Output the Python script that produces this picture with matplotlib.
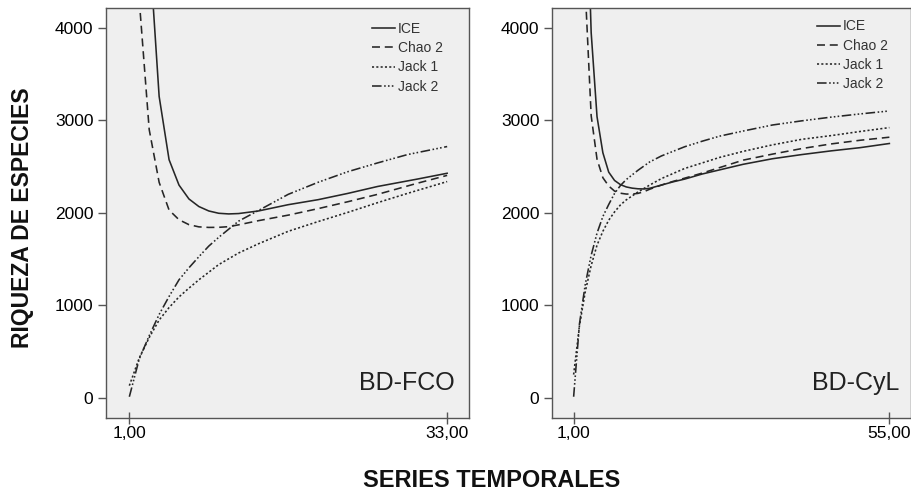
import matplotlib
matplotlib.use("Agg")
import matplotlib.pyplot as plt

plt.rcParams['font.family'] = ['Liberation Sans', 'DejaVu Sans']

# BD-FCO (33 series)
fco_ice_x = [2, 3, 4, 5, 6, 7, 8, 9, 10, 11, 12, 14, 17, 20, 23, 26, 30, 33]
fco_ice_y = [8000, 4900, 3260, 2575, 2300, 2150, 2068, 2020, 1995, 1988, 1992, 2020, 2088, 2142, 2210, 2285, 2365, 2428]
fco_chao_x = [2, 3, 4, 5, 6, 7, 8, 9, 10, 11, 12, 14, 17, 20, 23, 26, 30, 33]
fco_chao_y = [4300, 2900, 2330, 2030, 1925, 1872, 1848, 1842, 1843, 1850, 1870, 1915, 1975, 2045, 2120, 2200, 2320, 2405]
fco_jack1_x = [1, 2, 3, 4, 5, 6, 7, 8, 10, 12, 14, 17, 20, 23, 26, 29, 33]
fco_jack1_y = [130, 430, 650, 840, 975, 1090, 1185, 1275, 1440, 1565, 1665, 1800, 1905, 2005, 2110, 2210, 2338]
fco_jack2_x = [1, 2, 3, 4, 5, 6, 7, 8, 9, 10, 12, 14, 17, 20, 23, 26, 29, 33]
fco_jack2_y = [10, 420, 670, 900, 1095, 1275, 1405, 1525, 1640, 1735, 1910, 2025, 2200, 2330, 2445, 2540, 2630, 2717]

# BD-CyL (55 series)
cyl_ice_x = [3, 4, 5, 6, 7, 8, 9, 10, 11, 12, 13, 14, 16, 18, 20, 23, 26, 30, 35, 40, 45, 50, 55]
cyl_ice_y = [6000, 3950, 3040, 2650, 2440, 2350, 2305, 2280, 2267, 2260, 2258, 2265, 2300, 2335, 2365, 2420, 2465, 2525, 2585, 2630, 2670, 2705, 2750]
cyl_chao_x = [2, 3, 4, 5, 6, 7, 8, 9, 10, 11, 12, 13, 14, 16, 18, 20, 23, 26, 30, 35, 40, 45, 50, 55]
cyl_chao_y = [7000, 4400, 3050, 2580, 2380, 2290, 2235, 2212, 2203, 2203, 2210, 2228, 2255, 2300, 2340, 2375, 2430, 2490, 2570, 2635, 2695, 2745, 2785, 2818]
cyl_jack1_x = [1, 2, 3, 4, 5, 6, 7, 8, 9, 10, 12, 14, 16, 18, 20, 23, 26, 30, 35, 40, 45, 50, 55]
cyl_jack1_y = [250, 780, 1150, 1430, 1650, 1800, 1920, 2010, 2085, 2140, 2225, 2300, 2370, 2425, 2480, 2540, 2600, 2665, 2735, 2795, 2835, 2880, 2922]
cyl_jack2_x = [1, 2, 3, 4, 5, 6, 7, 8, 9, 10, 12, 14, 16, 18, 20, 23, 26, 30, 35, 40, 45, 50, 55]
cyl_jack2_y = [10, 800, 1230, 1540, 1780, 1960, 2090, 2210, 2295, 2360, 2460, 2550, 2615, 2665, 2715, 2775, 2830, 2885, 2950, 2995, 3035, 3070, 3102]

labels = ['ICE', 'Chao 2', 'Jack 1', 'Jack 2']
y_ticks = [0, 1000, 2000, 3000, 4000]

styles = [
    dict(linestyle='-'),
    dict(linestyle=(0, (5, 3))),
    dict(linestyle=(0, (1.3, 1.4))),
    dict(linestyle=(0, (6, 1.6, 1, 1.4, 1, 1.4, 1, 1.6))),
]
line_color = '#262626'
frame_color = '#555555'

fig = plt.figure(figsize=(9.11, 4.92), dpi=100)
ax1 = fig.add_axes([106 / 911, 1 - 418 / 492, 363 / 911, 410 / 492])
ax2 = fig.add_axes([552 / 911, 1 - 418 / 492, 359 / 911, 410 / 492])

panels = [
    (ax1, [(fco_ice_x, fco_ice_y), (fco_chao_x, fco_chao_y), (fco_jack1_x, fco_jack1_y), (fco_jack2_x, fco_jack2_y)],
     [1, 33], ['1,00', '33,00'], (-1.35, 35.2), 'BD-FCO', 0.961, (0.732, 0.966)),
    (ax2, [(cyl_ice_x, cyl_ice_y), (cyl_chao_x, cyl_chao_y), (cyl_jack1_x, cyl_jack1_y), (cyl_jack2_x, cyl_jack2_y)],
     [1, 55], ['1,00', '55,00'], (-2.7, 58.7), 'BD-CyL', 0.969, (0.737, 0.972)),
]

for ax, series, xt, xtl, xlim, name, name_x, leg_pos in panels:
    ax.set_facecolor('#efefef')
    for (xs, ys), lab, st in zip(series, labels, styles):
        ax.plot(xs, ys, color=line_color, lw=1.15, label=lab, **st)
    ax.set_xlim(*xlim)
    ax.set_ylim(-220, 4216)
    ax.set_xticks(xt)
    ax.set_xticklabels(xtl)
    ax.set_yticks(y_ticks)
    ax.set_yticklabels([str(v) for v in y_ticks])
    ax.tick_params(axis='y', direction='out', length=6, width=1, color=frame_color,
                   labelsize=12.5, pad=3)
    ax.tick_params(axis='x', direction='inout', length=8, width=1, color=frame_color,
                   labelsize=12.5, pad=2)
    for sp in ax.spines.values():
        sp.set_color(frame_color)
        sp.set_linewidth(1)
    ax.text(name_x, 0.068, name, transform=ax.transAxes, ha='right', va='baseline',
            fontsize=18, color='#222222')
    ax.legend(loc='upper left', bbox_to_anchor=leg_pos, frameon=False, fontsize=10,
              borderpad=0, borderaxespad=0, handlelength=1.7, handletextpad=0.2,
              labelspacing=0.38, labelcolor='#333333')

fig.text(0.025, 0.557, 'RIQUEZA DE ESPECIES', rotation=90, ha='center', va='center',
         fontsize=16.5, fontweight='bold', color='#111111')
fig.text(0.540, 0.0102, 'SERIES TEMPORALES', ha='center', va='baseline',
         fontsize=17, fontweight='bold', color='#111111')

fig.savefig('out.png', dpi=100)
